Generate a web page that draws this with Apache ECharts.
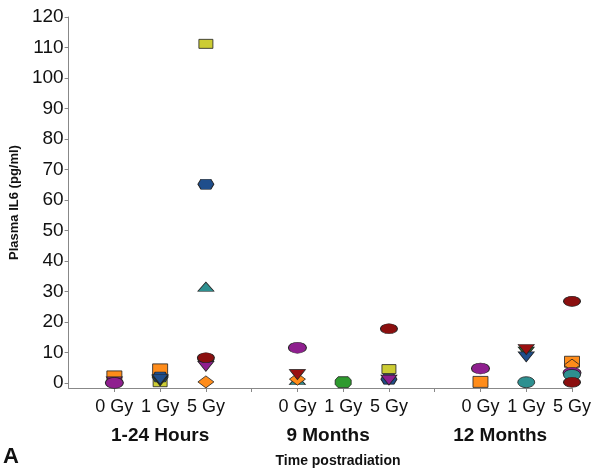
<!DOCTYPE html>
<html>
<head>
<meta charset="utf-8">
<script src="https://cdn.jsdelivr.net/npm/echarts@6/dist/echarts.min.js"></script>
<style>
  html, body { margin: 0; padding: 0; background: #fff; }
  #chart { width: 600px; height: 471px; }
</style>
</head>
<body>
<div id="chart"></div>
<script>
// x positions of the nine dose columns (3 doses x 3 time points)
const positions = [1, 2, 3, 5, 6, 7, 9, 10, 11]
const doseLabels = ['0 Gy', '1 Gy', '5 Gy', '0 Gy', '1 Gy', '5 Gy', '0 Gy', '1 Gy', '5 Gy']
const groupLabels = ['1-24 Hours', '9 Months', '12 Months']
const groupCenters = [2, 5.67, 9.43]
const yTicks = [0, 10, 20, 30, 40, 50, 60, 70, 80, 90, 100, 110, 120]
const xTicks = [1, 2, 3, 4, 5, 6, 7, 8, 9, 10, 11]

// IL6 per animal marker, one value per dose column (null = no point)
const orangeSquare = [2.2, 4.5, null, null, null, null, 0.4, null, 7.0]
const yellowSquare = [null, 0.3, 111.2, null, null, 4.6, null, null, null]
const blueHex = [null, 2.0, 65.2, null, null, 1.3, null, null, null]
const tealTriangle = [null, null, 31.6, 1.0, null, null, null, null, null]
const greenOct = [null, null, null, null, 0.3, null, null, null, null]
const greenDown = [null, 0.8, 6.0, null, null, null, null, 10.2, null]
const blueDown = [null, 1.2, null, null, null, null, null, 8.6, null]
const orangeDiamond = [null, null, 0.4, 1.3, null, null, null, null, 5.9]
const redDown = [null, null, null, 2.8, null, null, null, 11.0, null]
const purpleDown = [0.4, null, 5.5, null, null, 1.0, null, null, null]
const purpleEllipse = [0.1, null, null, 11.6, null, null, 4.8, null, 3.4]
const tealEllipse = [null, null, null, null, null, null, null, 0.3, 2.7]
const redEllipse = [null, null, 8.3, null, null, 17.8, null, null, 26.8]
const redEllipseB = [null, null, null, null, null, null, null, null, 0.3]

const HEX = 'path://M0,5 L3,0 L13,0 L16,5 L13,10 L3,10 Z'
const OCT = 'path://M3,0 L13,0 L16,3 L16,7 L13,10 L3,10 L0,7 L0,3 Z'
const DOWN = 'path://M0,0 L16,0 L8,10 Z'
const FONT = 'Liberation Sans'

function toPoints (vals) {
  return vals.map((v, i) => v == null ? null : [positions[i], v]).filter(p => p)
}

function marker (name, vals, symbol, size, color) {
  return {
    name: name,
    type: 'scatter',
    data: toPoints(vals),
    symbol: symbol,
    symbolSize: size,
    itemStyle: { color: color, borderColor: '#222', borderWidth: 0.8, opacity: 1 },
    emphasis: { disabled: true }
  }
}

const chart = echarts.init(document.getElementById('chart'), null, { renderer: 'canvas' })

const option = {
  animation: false,
  backgroundColor: '#fff',
  grid: { left: 66, right: 28, top: 17, bottom: 83 },
  xAxis: [
    {
      type: 'value',
      min: 0,
      max: 11,
      position: 'bottom',
      axisLine: { onZero: false, lineStyle: { color: '#888', width: 1 } },
      axisTick: { customValues: xTicks, length: 4, lineStyle: { color: '#888' } },
      axisLabel: {
        customValues: positions,
        formatter: v => doseLabels[positions.indexOf(v)],
        margin: 10,
        fontSize: 18,
        fontFamily: FONT,
        color: '#111'
      },
      splitLine: { show: false }
    },
    {
      type: 'value',
      min: 0,
      max: 11,
      position: 'bottom',
      axisLine: { show: false, onZero: false },
      axisTick: { show: false },
      axisLabel: {
        customValues: groupCenters,
        formatter: v => groupLabels[groupCenters.indexOf(v)],
        margin: 38,
        fontSize: 19,
        fontWeight: 'bold',
        fontFamily: FONT,
        color: '#111'
      },
      splitLine: { show: false }
    }
  ],
  yAxis: {
    type: 'value',
    min: -1.6,
    max: 120,
    name: 'Plasma IL6 (pg/ml)',
    nameLocation: 'middle',
    nameRotate: 90,
    nameGap: 47,
    nameTextStyle: { fontSize: 13, fontWeight: 'bold', fontFamily: FONT, color: '#111' },
    axisLine: { show: true, onZero: false, lineStyle: { color: '#888', width: 1 } },
    axisTick: { show: true, customValues: yTicks, length: 4, lineStyle: { color: '#888' } },
    axisLabel: { customValues: yTicks, margin: 5, fontSize: 19, fontFamily: FONT, color: '#111' },
    splitLine: { show: false }
  },
  graphic: [
    {
      type: 'text',
      x: 338,
      y: 454,
      style: { text: 'Time postradiation', font: 'bold 14px "Liberation Sans"', fill: '#111', textAlign: 'center' }
    },
    {
      type: 'text',
      x: 3,
      y: 446,
      style: { text: 'A', font: 'bold 22px "Liberation Sans"', fill: '#111' }
    }
  ],
  series: [
    marker('orangeSquare', orangeSquare, 'rect', [15, 11], '#ff8c1a'),
    marker('yellowSquare', yellowSquare, 'rect', [14, 9], '#cccc33'),
    marker('blueHex', blueHex, HEX, [16, 10], '#1f4e8c'),
    marker('tealTriangle', tealTriangle, 'triangle', [16, 9], '#2e9090'),
    marker('greenOct', greenOct, OCT, [16, 11], '#2e9a2e'),
    marker('greenDown', greenDown, DOWN, [16, 10], '#2e8a2e'),
    marker('blueDown', blueDown, DOWN, [16, 10], '#1f4e8c'),
    marker('orangeDiamond', orangeDiamond, 'diamond', [16, 12], '#ff8c1a'),
    marker('redDown', redDown, DOWN, [16, 10], '#9a1010'),
    marker('purpleDown', purpleDown, DOWN, [16, 10], '#8f1f8f'),
    marker('purpleEllipse', purpleEllipse, 'circle', [18, 11], '#8f1f8f'),
    marker('tealEllipse', tealEllipse, 'circle', [17, 11], '#2e9090'),
    marker('redEllipse', redEllipse, 'circle', [17, 10], '#8b0f0f'),
    marker('redEllipseB', redEllipseB, 'circle', [17, 10], '#8b0f0f')
  ]
}

chart.setOption(option)
</script>
</body>
</html>
